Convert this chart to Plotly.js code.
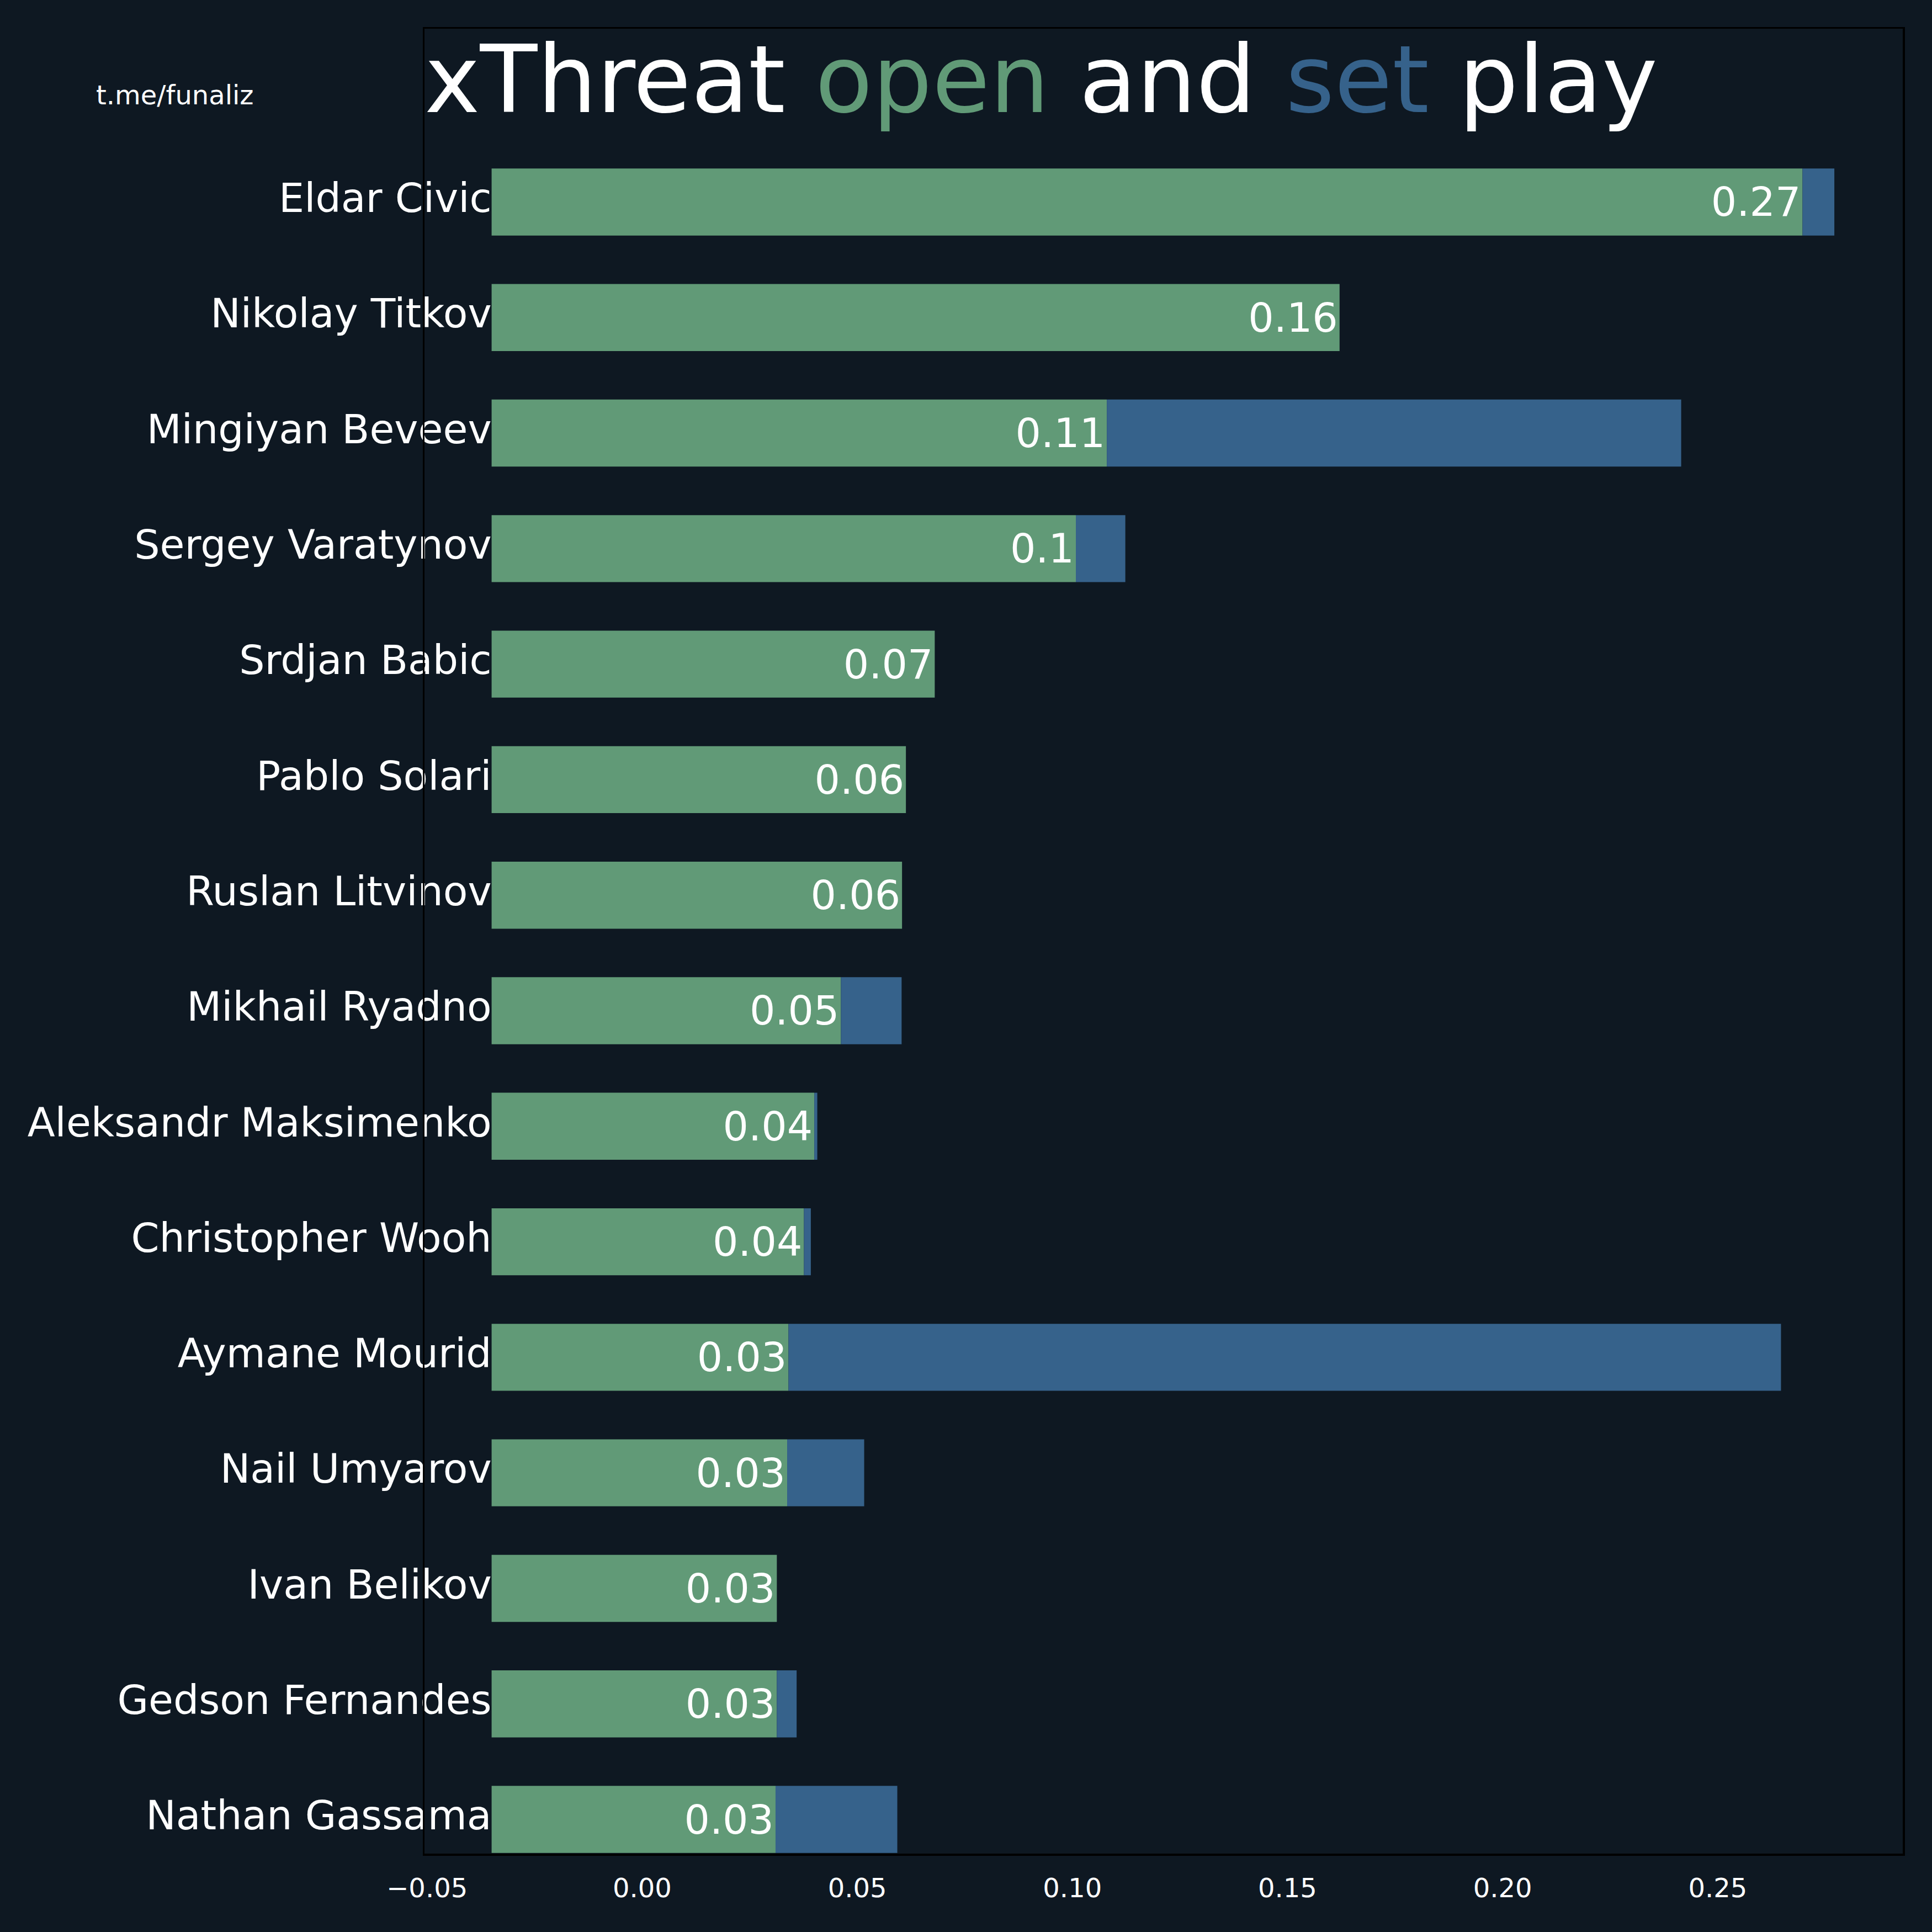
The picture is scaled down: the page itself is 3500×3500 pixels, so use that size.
<!DOCTYPE html>
<html>
<head>
<meta charset="utf-8">
<script src="https://cdn.plot.ly/plotly-3.0.1.min.js"></script>
<style>
  html, body { margin: 0; padding: 0; background: #0e1822; }
  #chart { width: 3500px; height: 3500px; }
</style>
</head>
<body>
<div id="chart"></div>
<script>
// players, top to bottom
const players = [
  'Eldar Civic', 'Nikolay Titkov', 'Mingiyan Beveev', 'Sergey Varatynov',
  'Srdjan Babic', 'Pablo Solari', 'Ruslan Litvinov', 'Mikhail Ryadno',
  'Aleksandr Maksimenko', 'Christopher Wooh', 'Aymane Mourid', 'Nail Umyarov',
  'Ivan Belikov', 'Gedson Fernandes', 'Nathan Gassama'
];
// xThreat from open play (green) and from set play (blue, stacked after it)
const openPlay = [0.2697, 0.1621, 0.1080, 0.1008, 0.0680, 0.0613, 0.0604, 0.0462,
                  0.0400, 0.0376, 0.0340, 0.0337, 0.0313, 0.0313, 0.0310];
const setPlay  = [0.0074, 0, 0.1335, 0.0115, 0, 0, 0, 0.0141,
                  0.0007, 0.0016, 0.2307, 0.0179, 0, 0.0046, 0.0283];
// bars start a bit left of zero, names are written just left of that
const barStart = -0.035;
const xTicks = [-0.05, 0, 0.05, 0.10, 0.15, 0.20, 0.25];

const GREEN = '#619a77';
const BLUE = '#36628b';
const BG = '#0e1822';
const FONT = 'DejaVu Sans, sans-serif';

// python-style round(v, 2): 0.10 -> "0.1"
const openLabels = openPlay.map(v => String(Number(v.toFixed(2))));

const traces = [
  {
    type: 'bar', orientation: 'h', y: players,
    base: players.map(() => barStart),
    x: openPlay.map(v => v - barStart),
    width: 0.58,
    marker: { color: GREEN, line: { width: 0 } },
    text: openLabels, textposition: 'inside', insidetextanchor: 'end',
    textangle: 0, constraintext: 'none',
    insidetextfont: { family: FONT, size: 73, color: '#ffffff' },
    hoverinfo: 'skip'
  },
  {
    type: 'bar', orientation: 'h', y: players,
    base: openPlay, x: setPlay,
    width: 0.58,
    marker: { color: BLUE, line: { width: 0 } },
    hoverinfo: 'skip'
  },
  {
    type: 'scatter', mode: 'text', y: players,
    x: players.map(() => barStart),
    text: players, textposition: 'middle left', cliponaxis: false,
    textfont: { family: FONT, size: 73, color: '#ffffff' },
    hoverinfo: 'skip'
  }
];

const layout = {
  width: 3500, height: 3500,
  paper_bgcolor: BG, plot_bgcolor: BG,
  font: { family: FONT, color: '#ffffff' },
  margin: { l: 769, r: 53, t: 52, b: 142 },
  showlegend: false,
  barmode: 'overlay',
  title: {
    text: 'xThreat <span style="color:' + GREEN + '">open</span> and <span style="color:' + BLUE + '">set</span> play',
    font: { family: FONT, size: 170, color: '#ffffff' },
    xref: 'paper', x: 0, xanchor: 'left',
    yref: 'container', y: 1 - 203 / 3500, yanchor: 'bottom'
  },
  xaxis: {
    range: [-0.0506, 0.2930], tickvals: xTicks, tickformat: '.2f',
    showgrid: false, zeroline: false,
    showline: true, mirror: true, linecolor: '#000000', linewidth: 3.5,
    ticks: 'outside', ticklen: 18, tickcolor: BG,
    tickfont: { family: FONT, size: 48, color: '#ffffff' }
  },
  yaxis: {
    type: 'category', categoryorder: 'array', categoryarray: players,
    range: [14.296, -1.5],
    showticklabels: false, showgrid: false, zeroline: false,
    showline: true, mirror: true, linecolor: '#000000', linewidth: 3.5,
    ticks: ''
  },
  annotations: [
    {
      text: 't.me/funaliz', xref: 'paper', yref: 'paper',
      x: (172 - 769) / 2678, xanchor: 'left',
      y: (3358 - 172) / 3306, yanchor: 'middle',
      showarrow: false,
      font: { family: FONT, size: 48, color: '#ffffff' }
    }
  ]
};

Plotly.newPlot('chart', traces, layout, { staticPlot: true });
</script>
</body>
</html>
